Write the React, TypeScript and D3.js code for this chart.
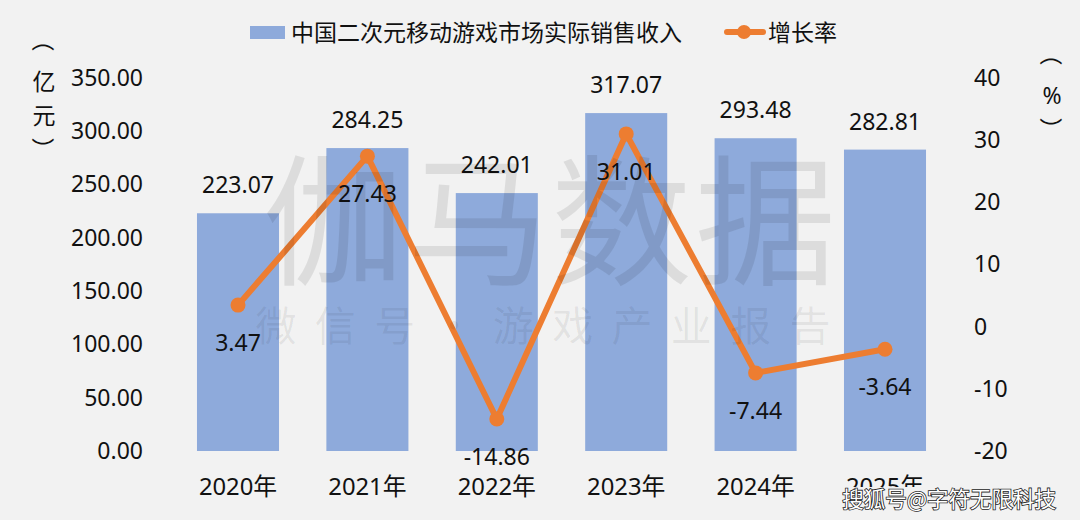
import React, { useEffect, useRef } from 'react';
import * as d3 from 'd3';

const years = ['2020年', '2021年', '2022年', '2023年', '2024年', '2025年'];
const revenue = [223.07, 284.25, 242.01, 317.07, 293.48, 282.81];
const growth = [3.47, 27.43, -14.86, 31.01, -7.44, -3.64];
const leftTicks = [0, 50, 100, 150, 200, 250, 300, 350];
const rightTicks = [-20, -10, 0, 10, 20, 30, 40];
const barName = '中国二次元移动游戏市场实际销售收入';
const lineName = '增长率';
const markBig = '伽马数据';
const markSmall = ['微', '信', '号', '·', '游', '戏', '产', '业', '报', '告'];

const FONT = '"Noto Sans", "Noto Sans CJK SC", sans-serif';
const CJK = '"Noto Sans CJK SC", sans-serif';
const BAR = '#8eaadb';
const LINE = '#ed7d31';
const BG = '#f2f2f2';

export default function App() {
  const svgRef = useRef<SVGSVGElement>(null);

  useEffect(() => {
    if (!svgRef.current) return;
    const svg = d3.select(svgRef.current);
    svg.selectAll('*').remove();

    const top = 78;
    const bottom = 451;

    const x = d3.scaleBand().domain(years).range([173.3, 949.7]).paddingInner(0.366).paddingOuter(0.183);
    const y = d3.scaleLinear().domain([0, 350]).range([bottom, top]);
    const y2 = d3.scaleLinear().domain([-20, 40]).range([bottom, top]);
    const cx = (d: string) => (x(d) as number) + x.bandwidth() / 2;

    const label = (t: string, px: number, py: number, anchor = 'middle', size = 23) =>
      svg.append('text')
        .attr('x', px)
        .attr('y', py)
        .attr('text-anchor', anchor)
        .attr('dominant-baseline', 'central')
        .attr('font-size', size)
        .attr('fill', '#111')
        .text(t);

    svg.attr('font-family', FONT);

    // Bars
    svg.selectAll('.bar')
      .data(revenue)
      .enter()
      .append('rect')
      .attr('class', 'bar')
      .attr('x', (_, i) => x(years[i]) as number)
      .attr('y', d => y(d))
      .attr('width', x.bandwidth())
      .attr('height', d => bottom - y(d))
      .attr('fill', BAR);

    // Axes
    const left = svg.append('g')
      .attr('transform', 'translate(143,0)')
      .call(d3.axisLeft(y).tickValues(leftTicks).tickSize(0).tickPadding(0).tickFormat(d => d3.format('.2f')(d as number)));
    const right = svg.append('g')
      .attr('transform', 'translate(974,0)')
      .call(d3.axisRight(y2).tickValues(rightTicks).tickSize(0).tickPadding(0).tickFormat(d => String(d)));
    const bot = svg.append('g')
      .attr('transform', `translate(0,${bottom})`)
      .call(d3.axisBottom(x).tickSize(0).tickPadding(27));
    [left, right, bot].forEach(a => {
      a.select('.domain').remove();
      a.selectAll('text').attr('font-size', 23).attr('font-family', FONT).attr('fill', '#111');
    });
    bot.selectAll('text').attr('font-size', 23.8);

    // Line
    const line = d3.line<number>()
      .x((_, i) => cx(years[i]))
      .y(d => y2(d));
    svg.append('path')
      .datum(growth)
      .attr('d', line)
      .attr('fill', 'none')
      .attr('stroke', LINE)
      .attr('stroke-width', 6)
      .attr('stroke-linejoin', 'round');
    svg.selectAll('.dot')
      .data(growth)
      .enter()
      .append('circle')
      .attr('class', 'dot')
      .attr('cx', (_, i) => cx(years[i]))
      .attr('cy', d => y2(d))
      .attr('r', 7.5)
      .attr('fill', LINE);

    // Value labels
    revenue.forEach((d, i) => label(d.toFixed(2), cx(years[i]), y(d) - 29));
    growth.forEach((d, i) => label(d.toFixed(2), cx(years[i]), y2(d) + 37));

    // Unit titles, stacked; the brackets are turned a quarter so they arch
    const bracket = (t: string, px: number, py: number) =>
      label(t, px, py).attr('font-family', CJK).attr('transform', `rotate(90 ${px} ${py})`);
    bracket('（', 44, 40);
    label('亿', 44, 81);
    label('元', 44, 115);
    bracket('）', 44, 149);
    bracket('（', 1052, 54);
    label('%', 1052, 95);
    bracket('）', 1052, 129);

    // Legend
    svg.append('rect').attr('x', 250).attr('y', 26).attr('width', 35).attr('height', 13).attr('fill', BAR);
    label(barName, 291, 32, 'start', 23);
    svg.append('line').attr('x1', 727).attr('x2', 763).attr('y1', 32).attr('y2', 32)
      .attr('stroke', LINE).attr('stroke-width', 6).attr('stroke-linecap', 'round');
    svg.append('circle').attr('cx', 744).attr('cy', 32).attr('r', 7).attr('fill', LINE);
    label(lineName, 768, 32, 'start', 23);

    // Watermark
    svg.append('text')
      .attr('x', 551).attr('y', 212)
      .attr('text-anchor', 'middle').attr('dominant-baseline', 'central')
      .attr('font-family', CJK)
      .attr('font-size', 141).attr('letter-spacing', 3)
      .attr('fill', '#000').attr('fill-opacity', 0.09)
      .text(markBig);
    const markX = d3.scalePoint().domain(markSmall.map((_, i) => String(i))).range([276, 810]);
    svg.selectAll('.mark')
      .data(markSmall)
      .enter()
      .append('text')
      .attr('class', 'mark')
      .attr('x', (_, i) => markX(String(i)) as number)
      .attr('y', 323)
      .attr('text-anchor', 'middle').attr('dominant-baseline', 'central')
      .attr('font-family', CJK)
      .attr('font-size', 41)
      .attr('fill', '#000').attr('fill-opacity', 0.07)
      .text(d => d);

    // Publisher mark, its patch hides the lower part of the last year
    svg.append('rect').attr('x', 840).attr('y', 487).attr('width', 220).attr('height', 26).attr('fill', BG);
    svg.append('text')
      .attr('x', 1056).attr('y', 497)
      .attr('text-anchor', 'end').attr('dominant-baseline', 'central')
      .attr('font-family', CJK)
      .attr('font-size', 21.5)
      .attr('fill', '#fff').attr('stroke', '#222').attr('stroke-width', 1.6)
      .attr('paint-order', 'stroke')
      .text('搜狐号@字符无限科技');
  }, []);

  return (
    <svg
      ref={svgRef}
      width={1080}
      height={520}
      style={{ position: 'absolute', left: 0, top: 0, background: BG }}
    />
  );
}
